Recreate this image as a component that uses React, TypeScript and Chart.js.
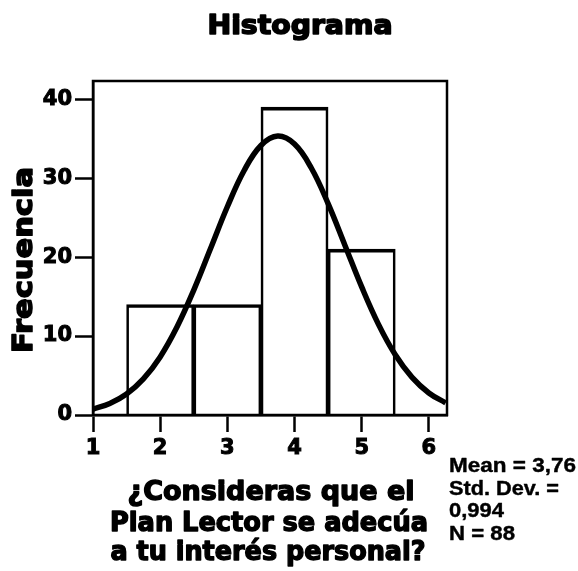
import React, { useEffect, useRef } from "react";
import { Chart, registerables } from "chart.js";

Chart.register(...registerables);

// ---- data ----
const binCenters = [2, 3, 4, 5];
const frequencies = [14, 14, 39, 21];
const curveX = [1, 1.25, 1.5, 1.75, 2, 2.25, 2.5, 2.75, 3, 3.25, 3.5, 3.75, 4, 4.25, 4.5, 4.75, 5, 5.25, 5.5, 5.75, 6, 6.25];
const curveY = [0.75, 1.46, 2.66, 4.57, 7.36, 11.14, 15.82, 21.08, 26.37, 30.97, 34.13, 35.32, 34.31, 31.28, 26.77, 21.51, 16.22, 11.48, 7.63, 4.76, 2.79, 1.53];
const xTicks = [1, 2, 3, 4, 5, 6];
const yTicks = [0, 10, 20, 30, 40];
const titleText = "Histograma";
const yTitle = "Frecuencia";
const xTitleLines = ["¿Consideras que el", "Plan Lector se adecúa", "a tu interés personal?"];
const statsLines = ["Mean = 3,76", "Std. Dev. =", "0,994", "N = 88"];

const W = 578;
const H = 571;
const BOLD = "bold 26px 'DejaVu Sans'";
const TICK_FONT = { family: "'DejaVu Sans'", size: 21, weight: "bold" as const };

function fitText(
  ctx: CanvasRenderingContext2D,
  text: string,
  x: number,
  y: number,
  font: string,
  targetWidth: number,
  align: CanvasTextAlign,
  stroke: number,
  rotate = 0
) {
  ctx.save();
  ctx.font = font;
  ctx.fillStyle = "#000";
  ctx.strokeStyle = "#000";
  ctx.lineJoin = "round";
  ctx.textAlign = align;
  ctx.textBaseline = "alphabetic";
  const w = ctx.measureText(text).width;
  const s = targetWidth / w;
  ctx.translate(x, y);
  if (rotate) ctx.rotate(rotate);
  ctx.scale(s, 1);
  ctx.fillText(text, 0, 0);
  if (stroke > 0) {
    ctx.lineWidth = stroke;
    ctx.strokeText(text, 0, 0);
  }
  ctx.restore();
}

const framePlugin = {
  id: "frame",
  afterDatasetsDraw(chart: any) {
    const { ctx, chartArea } = chart;
    ctx.save();
    ctx.strokeStyle = "#000";
    ctx.lineWidth = 2.5;
    ctx.strokeRect(chartArea.left, chartArea.top, chartArea.right - chartArea.left, chartArea.bottom - chartArea.top);
    ctx.restore();
  },
};

const textPlugin = {
  id: "texts",
  afterDraw(chart: any) {
    const ctx = chart.ctx as CanvasRenderingContext2D;
    fitText(ctx, titleText, 300, 34, "bold 26px 'DejaVu Sans'", 185, "center", 1.6);
    fitText(ctx, yTitle, 32, 260, "bold 27px 'DejaVu Sans'", 186, "center", 1.6, -Math.PI / 2);
    const xCenters = [271, 269, 268];
    const xBase = [500, 531, 560];
    const xWidths = [287, 318, 315];
    xTitleLines.forEach((t, i) => fitText(ctx, t, xCenters[i], xBase[i], BOLD, xWidths[i], "center", 1.4));
    const sBase = [472, 495, 517, 540];
    const sWidths = [127, 110, 55, 66];
    statsLines.forEach((t, i) =>
      fitText(ctx, t, 449, sBase[i], "bold 20px 'Liberation Sans'", sWidths[i], "left", 0.4)
    );
  },
};

export default function App() {
  const ref = useRef<HTMLCanvasElement | null>(null);

  useEffect(() => {
    if (!ref.current) return;
    const chart = new Chart(ref.current, {
      type: "bar",
      data: {
        datasets: [
          {
            type: "line",
            data: curveX.map((x, i) => ({ x, y: curveY[i] })),
            borderColor: "#000",
            borderWidth: 5.5,
            pointRadius: 0,
            tension: 0.4,
            fill: false,
            order: 0,
          } as any,
          {
            type: "bar",
            data: binCenters.map((x, i) => ({ x, y: frequencies[i] })),
            backgroundColor: "rgba(0,0,0,0)",
            borderColor: "#000",
            borderWidth: { top: 3, left: 2, right: 2, bottom: 0 },
            barPercentage: 1,
            categoryPercentage: 1,
            order: 1,
          } as any,
        ],
      },
      options: {
        responsive: false,
        animation: false,
        devicePixelRatio: 1,
        layout: { padding: { top: 81, right: 131, left: 0, bottom: 0 } },
        plugins: { legend: { display: false }, tooltip: { enabled: false }, title: { display: false } },
        scales: {
          x: {
            type: "linear",
            min: 1,
            max: 6.27,
            offset: false,
            afterBuildTicks: (s: any) => {
              s.ticks = xTicks.map((v) => ({ value: v }));
            },
            afterFit: (s: any) => {
              s.height = 156;
            },
            ticks: {
              color: "#000",
              font: TICK_FONT,
              padding: 4,
              maxRotation: 0,
              autoSkip: false,
              textStrokeColor: "#000",
              textStrokeWidth: 1,
              callback: (v: any) => String(v),
            },
            grid: {
              offset: false,
              drawOnChartArea: false,
              drawTicks: true,
              tickLength: 17,
              tickWidth: 2.5,
              tickColor: "#000",
            },
            border: { display: true, color: "#000", width: 2.5 },
          },
          y: {
            type: "linear",
            min: 0,
            max: 42.3,
            afterBuildTicks: (s: any) => {
              s.ticks = yTicks.map((v) => ({ value: v }));
            },
            afterFit: (s: any) => {
              s.width = 93;
            },
            ticks: {
              color: "#000",
              font: TICK_FONT,
              padding: 3,
              autoSkip: false,
              textStrokeColor: "#000",
              textStrokeWidth: 1,
              callback: (v: any) => String(v),
            },
            grid: {
              drawOnChartArea: false,
              drawTicks: true,
              tickLength: 18,
              tickWidth: 2.5,
              tickColor: "#000",
            },
            border: { display: true, color: "#000", width: 2.5 },
          },
        },
      } as any,
      plugins: [framePlugin, textPlugin],
    });
    return () => chart.destroy();
  }, []);

  return (
    <div style={{ position: "fixed", left: 0, top: 0, width: W, height: H, background: "#fff" }}>
      <canvas ref={ref} width={W} height={H} style={{ display: "block", width: W, height: H }} />
    </div>
  );
}
